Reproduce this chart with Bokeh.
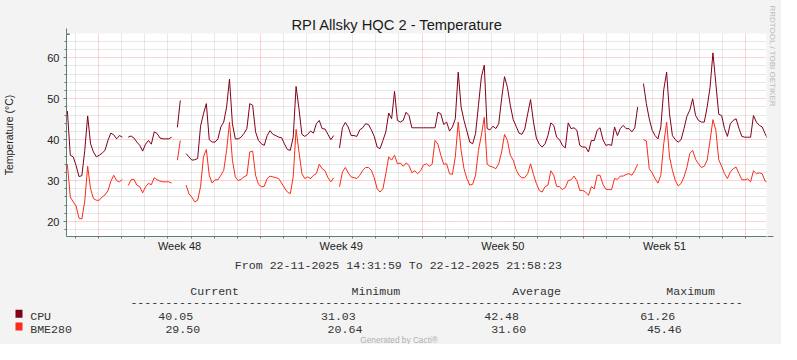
from datetime import datetime, timedelta, timezone
from bokeh.plotting import figure
from bokeh.models import ColumnDataSource, Range1d, FixedTicker, Title, Arrow, NormalHead
from bokeh.layouts import column
from bokeh.embed import file_html
from bokeh.resources import INLINE
from bokeh.core.properties import value

nan = float("nan")

# ---------------- data ----------------
title_text = "RPI Allsky HQC 2 - Temperature"
y_label = "Temperature (°C)"
start_time = datetime(2025, 11, 22, 14, 31, 59)
end_time = datetime(2025, 12, 22, 21, 58, 23)
week_labels = ["Week 48", "Week 49", "Week 50", "Week 51"]
week_label_times = [datetime(2025, 11, 27, 12), datetime(2025, 12, 4, 12),
                    datetime(2025, 12, 11, 12), datetime(2025, 12, 18, 12)]
series_names = ["CPU", "BME280"]
stat_headers = ["Current", "Minimum", "Average", "Maximum"]
cpu_stats = [40.05, 31.03, 42.48, 61.26]
bme_stats = [29.50, 20.64, 31.60, 45.46]
y_major = [20, 30, 40, 50, 60]
y_minor = [18, 22, 24, 26, 28, 32, 34, 36, 38, 42, 44, 46, 48, 52, 54, 56, 58, 62, 64]

first_sample_offset_s = 3360
sample_step_s = 10830

cpu = [
    47.0, 36.2, 35.8, 33.7, 31.0, 31.2, 37.4, 45.8, 39.0, 37.0,
    35.8, 36.2, 36.7, 37.4, 39.8, 41.6, 41.2, 40.2, 41.0, 40.6,
    nan, 40.6, 40.9, 40.4, 39.4, 38.6, 37.2, 38.9, 39.8, 38.9,
    41.9, 41.5, 40.4, 40.2, 40.2, 40.2, 40.6, nan, 43.0, 49.6,
    nan, 36.6, 35.8, 35.0, 35.1, 35.4, 43.3, 46.3, 48.8, 40.0,
    39.4, 39.4, 40.2, 43.1, 44.3, 48.0, 54.8, 43.9, 40.2, 40.2,
    40.6, 41.5, 42.7, 48.8, 48.4, 41.9, 39.8, 39.0, 38.6, 41.0,
    42.2, 41.3, 41.0, 40.6, 40.5, 38.9, 37.6, 37.4, 40.6, 53.0,
    47.5, 41.3, 40.8, 41.3, 42.1, 41.6, 43.9, 44.7, 42.7, 42.6,
    41.3, 40.0, 41.0, nan, 38.0, 42.9, 44.2, 43.1, 41.0, 41.0,
    40.8, 42.4, 42.9, 43.9, 43.7, 42.4, 40.8, 38.2, 37.8, 39.8,
    41.9, 46.5, 45.1, 51.8, 44.7, 44.3, 44.7, 46.7, 45.9, 42.9,
    42.9, 42.9, 42.9, 42.9, 42.9, 42.9, 42.9, 42.9, 46.7, 46.3,
    43.7, 44.3, 42.1, 43.1, 45.1, 56.5, 48.0, 44.7, 42.1, 39.4,
    39.0, 41.5, 48.4, 55.3, 58.2, 42.7, 42.4, 43.3, 42.7, 43.9,
    50.0, 55.4, 52.8, 48.4, 44.9, 43.3, 41.6, 41.3, 42.6, 46.3,
    49.8, 44.3, 40.4, 38.9, 38.2, 39.0, 41.0, 44.1, 43.5, 40.6,
    40.0, 38.6, 38.0, 44.1, 42.7, 42.9, 42.3, 38.6, 38.2, 38.2,
    37.0, 39.8, 39.8, 42.3, 42.9, 40.0, 38.6, 38.8, 38.6, 43.1,
    41.0, 42.7, 43.5, 42.7, 42.7, 41.9, 42.9, 48.0, nan, 53.7,
    48.8, 45.1, 42.3, 41.0, 40.2, 43.1, 52.2, 56.5, 46.3, 41.0,
    40.0, 39.4, 40.0, 42.7, 45.7, 47.2, 50.0, 45.9, 44.7, 44.3,
    44.3, 48.0, 52.8, 61.2, 53.7, 46.2, 45.9, 42.7, 40.8, 43.9,
    44.7, 45.1, 42.7, 40.8, 40.6, 40.6, 40.6, 45.9, 44.3, 43.5,
    43.1, 41.5, 40.05,
]

bme280 = [
    34.0, 26.0, 24.8, 23.8, 20.8, 20.64, 25.0, 33.5, 28.0, 25.6,
    25.2, 25.2, 26.0, 26.5, 27.5, 29.8, 31.3, 30.0, 29.7, 30.3,
    nan, 28.8, 30.2, 30.3, 28.9, 28.5, 27.0, 28.5, 29.3, 29.0,
    30.7, 30.2, 29.9, 29.7, 29.7, 29.7, 29.4, nan, 35.0, 39.8,
    nan, 28.9, 26.8, 25.9, 24.8, 25.2, 28.5, 35.8, 37.6, 31.3,
    29.4, 30.2, 30.2, 31.3, 32.5, 37.4, 44.3, 35.0, 30.9, 30.0,
    30.3, 30.9, 31.3, 37.0, 37.2, 31.3, 29.1, 28.5, 28.6, 30.5,
    31.1, 30.9, 30.7, 30.5, 29.4, 28.2, 27.2, 26.8, 30.9, 42.5,
    37.0, 31.7, 30.5, 30.9, 30.5, 31.3, 31.7, 34.0, 32.9, 32.4,
    30.7, 29.7, 30.7, nan, 28.5, 32.1, 33.2, 31.9, 30.9, 30.7,
    30.5, 31.3, 32.5, 33.2, 33.2, 32.5, 30.7, 28.0, 27.2, 28.0,
    31.7, 35.8, 35.0, 36.2, 34.1, 34.3, 33.5, 34.3, 33.7, 31.9,
    32.4, 31.7, 32.4, 33.8, 34.1, 33.5, 34.0, 39.8, 38.9, 36.2,
    34.0, 34.1, 31.7, 31.5, 35.8, 44.3, 37.4, 32.9, 30.5, 28.9,
    29.1, 31.3, 37.4, 41.1, 45.46, 34.0, 33.5, 33.3, 32.9, 34.1,
    37.0, 41.3, 39.8, 36.2, 35.0, 32.7, 31.3, 30.7, 30.7, 31.7,
    34.1, 31.5, 29.3, 27.6, 27.2, 28.5, 28.9, 32.4, 31.3, 28.6,
    28.5, 27.8, 28.3, 30.0, 30.2, 31.1, 30.0, 27.6, 27.6, 27.2,
    26.4, 28.5, 28.0, 31.3, 31.3, 29.1, 27.9, 27.8, 27.8, 30.5,
    30.3, 31.1, 31.1, 31.5, 31.7, 31.3, 32.5, 34.0, nan, 40.0,
    39.7, 32.9, 31.9, 30.5, 29.4, 31.3, 39.0, 44.3, 35.8, 32.5,
    30.0, 28.7, 29.3, 30.9, 33.2, 36.6, 37.4, 35.2, 34.1, 33.2,
    33.5, 35.0, 39.8, 44.9, 42.3, 35.1, 33.5, 31.7, 30.5, 32.1,
    32.9, 33.3, 31.7, 30.2, 30.2, 30.4, 29.7, 32.4, 31.7, 31.9,
    31.7, 29.9, 29.5,
]

# ---------------- styles ----------------
BG = "#f3f3f3"
AXIS = "#5f7d72"
CPU_COLOR = "#800018"
BME_COLOR = "#f82c1a"
TXT = "#222222"
SANS = "Liberation Sans"
MONO = "Liberation Mono"


def ms(dt):
    return int(dt.replace(tzinfo=timezone.utc).timestamp() * 1000)


t0 = ms(start_time)
t1 = ms(end_time)
times = [t0 + (first_sample_offset_s + i * sample_step_s) * 1000 for i in range(len(cpu))]

day = datetime(2025, 11, 23)
all_days = []
while day <= end_time:
    all_days.append(day)
    day += timedelta(days=1)
monday_ms = [ms(d) for d in all_days if d.weekday() == 0]
other_day_ms = [ms(d) for d in all_days if d.weekday() != 0]
all_day_ms = [ms(d) for d in all_days]
week_mid_ms = [ms(d) for d in week_label_times]

Y0, Y1 = 16.34, 65.94
W = 781

src = ColumnDataSource(dict(x=times, cpu=cpu, bme=bme280))

p = figure(width=W, height=256, output_backend="svg", toolbar_location=None,
           x_range=Range1d(t0, t1), y_range=Range1d(Y0, Y1),
           min_border_left=66, min_border_right=15, min_border_top=33, min_border_bottom=20,
           background_fill_color="white", border_fill_color=BG, outline_line_color=None,
           title=title_text, frame_align=False)
p.title.align = "left"
p.title.offset = 225
p.title.standoff = 2
p.title.text_font = SANS
p.title.text_font_size = "14.7px"
p.title.text_font_style = "normal"
p.title.text_color = "#1a1a1a"

p.add_layout(Title(text="RRDTOOL / TOBI OETIKER", text_font=SANS, text_font_size="8px",
                   text_font_style="normal", text_color="#b9b9b9", align="left",
                   standoff=3, offset=-28), "right")

# grids
xg = p.xgrid[0]
xg.ticker = FixedTicker(ticks=monday_ms, minor_ticks=other_day_ms)
xg.grid_line_color = "#ff0000"
xg.grid_line_alpha = 0.35
xg.grid_line_dash = "1 1"
xg.minor_grid_line_color = "#8c8c8c"
xg.minor_grid_line_alpha = 0.4
xg.minor_grid_line_dash = "1 1"

yg = p.ygrid[0]
yg.ticker = FixedTicker(ticks=y_major, minor_ticks=y_minor)
yg.grid_line_color = "#ff0000"
yg.grid_line_alpha = 0.35
yg.grid_line_dash = "1 1"
yg.minor_grid_line_color = "#8c8c8c"
yg.minor_grid_line_alpha = 0.4
yg.minor_grid_line_dash = "1 1"

# axes
xa = p.xaxis[0]
xa.ticker = FixedTicker(ticks=week_mid_ms, minor_ticks=all_day_ms)
xa.major_label_overrides = {t: lab for t, lab in zip(week_mid_ms, week_labels)}
xa.major_tick_line_color = None
xa.major_tick_out = 0
xa.major_tick_in = 0
xa.minor_tick_out = 2
xa.minor_tick_in = 0
xa.minor_tick_line_color = AXIS
xa.axis_line_color = AXIS
xa.major_label_text_font = SANS
xa.major_label_text_font_size = "11px"
xa.major_label_text_color = TXT
xa.major_label_standoff = 1

ya = p.yaxis[0]
ya.ticker = FixedTicker(ticks=y_major, minor_ticks=y_minor)
ya.major_tick_out = 3
ya.major_tick_in = 0
ya.minor_tick_out = 2
ya.minor_tick_in = 0
ya.major_tick_line_color = AXIS
ya.minor_tick_line_color = AXIS
ya.axis_line_color = AXIS
ya.major_label_text_font = SANS
ya.major_label_text_font_size = "11px"
ya.major_label_text_color = TXT
ya.major_label_standoff = 4
ya.axis_label = y_label
ya.axis_label_text_font = SANS
ya.axis_label_text_font_size = "10.5px"
ya.axis_label_text_font_style = "normal"
ya.axis_label_text_color = TXT
ya.axis_label_standoff = 29

p.line("x", "cpu", source=src, line_color=CPU_COLOR, line_width=1)
p.line("x", "bme", source=src, line_color=BME_COLOR, line_width=1)

mspp = (t1 - t0) / 700.0
p.add_layout(Arrow(end=NormalHead(size=6, line_color=AXIS, fill_color=AXIS),
                   x_start=t1, y_start=Y0, x_end=t1 + 7 * mspp, y_end=Y0,
                   line_color=AXIS, line_width=1))
p.add_layout(Arrow(end=NormalHead(size=6, line_color=AXIS, fill_color=AXIS),
                   x_start=t0, y_start=Y1, x_end=t0, y_end=Y1 + 5 / 4.0927,
                   line_color=AXIS, line_width=1))

# ---------------- legend panel ----------------
HB = 88
q = figure(width=W, height=HB, output_backend="svg", toolbar_location=None,
           x_range=Range1d(0, W), y_range=Range1d(256 + HB, 256),
           x_axis_location=None, y_axis_location=None, min_border=0,
           background_fill_color=BG, border_fill_color=BG, outline_line_color=None,
           frame_align=False)
q.xgrid.visible = False
q.ygrid.visible = False

mono = dict(text_font=value(MONO), text_font_size="11.6px", text_color="#333333",
            text_baseline="alphabetic")

row_from, row_head, row_dash, row_cpu, row_bme, row_gen = 265.0, 290.5, 301.5, 316.0, 328.8, 339.3

q.text(x=[397.85], y=[row_from],
       text=[f"From {start_time:%d-%m-%Y %H:%M:%S} To {end_time:%d-%m-%Y %H:%M:%S}"],
       text_align="center", **mono)
q.text(x=[189.8, 351.0, 511.7, 665.8], y=[row_head] * 4, text=stat_headers, text_align="left", **mono)
q.text(x=[436.0], y=[row_dash], text=["-" * 88], text_align="center", **mono)

q.rect(x=[18.5, 18.5], y=[row_cpu - 2.8, row_bme - 2.8], width=7, height=8,
       fill_color=[CPU_COLOR, BME_COLOR], line_color=None)
q.text(x=[29.7, 29.7], y=[row_cpu, row_bme], text=series_names, text_align="left", **mono)
q.text(x=[157.8, 320.5, 483.7, 639.8], y=[row_cpu] * 4,
       text=[f"{v:.2f}" for v in cpu_stats], text_align="left", **mono)
q.text(x=[164.9, 327.1, 490.8, 646.4], y=[row_bme] * 4,
       text=[f"{v:.2f}" for v in bme_stats], text_align="left", **mono)
q.text(x=[398.6], y=[row_gen], text=["Generated by Cacti®"], text_align="center",
       text_font=value(SANS), text_font_size="8.3px", text_color="#b0b0b0",
       text_baseline="alphabetic")

layout = column(p, q, spacing=0, styles={"background-color": BG})
open("out.html", "w").write(file_html(layout, INLINE))
